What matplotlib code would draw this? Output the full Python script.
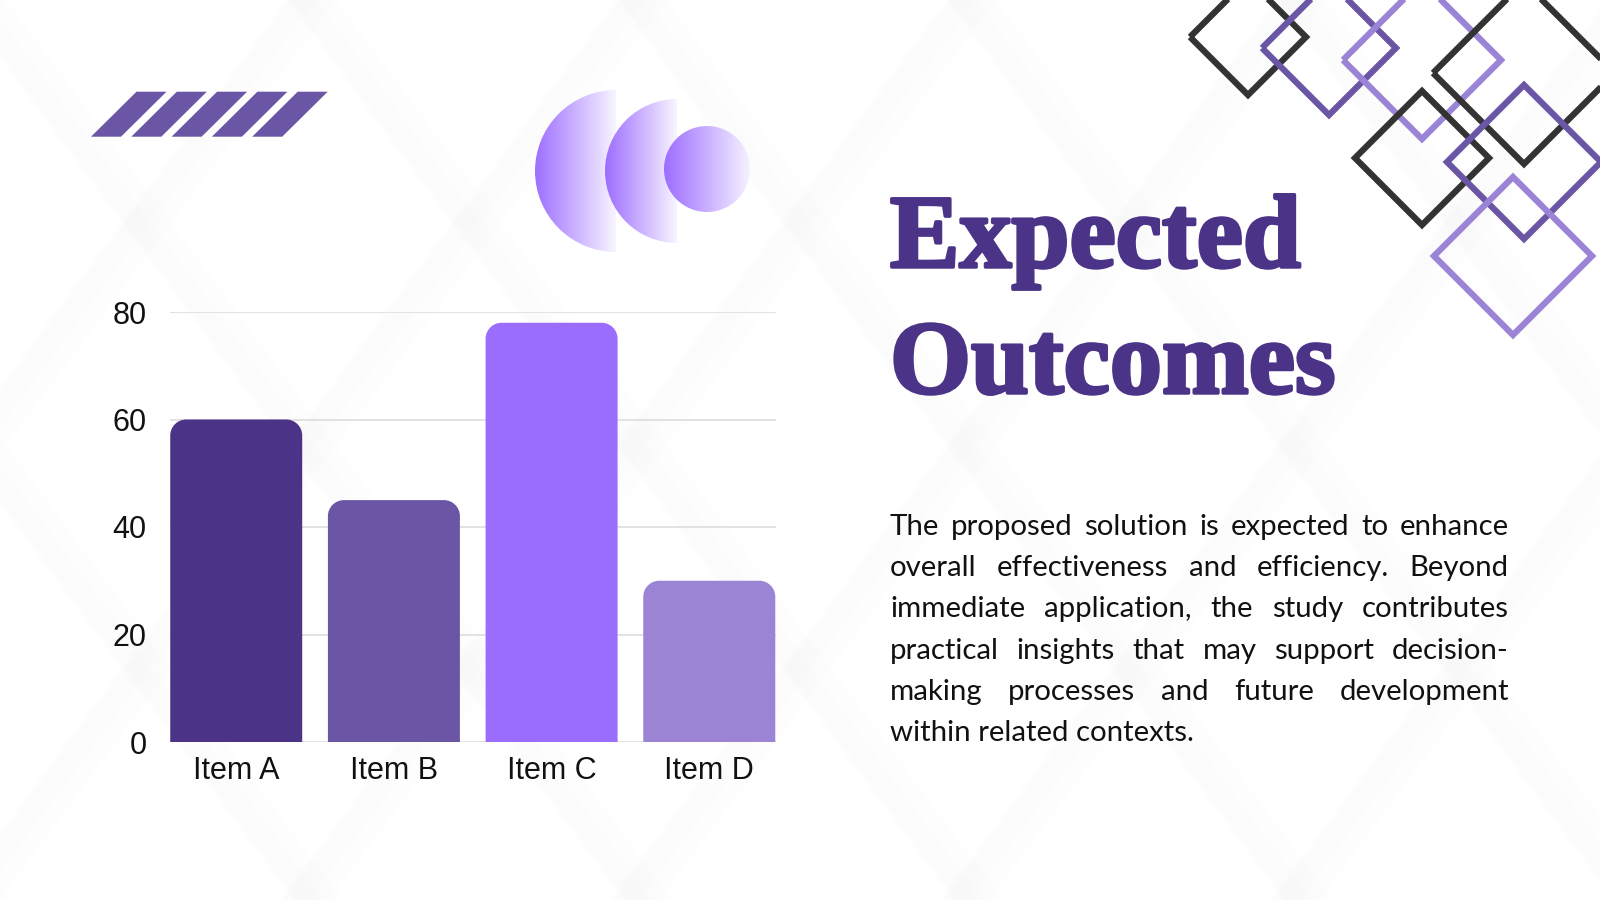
import numpy as np
import matplotlib
matplotlib.use("Agg")
import matplotlib.pyplot as plt
import matplotlib.patheffects as pe
from matplotlib.patches import Polygon, PathPatch, Wedge, Circle
from matplotlib.path import Path

# ---------- data ----------
items = ["Item A", "Item B", "Item C", "Item D"]
values = [60, 45, 78, 30]
bar_colors = ["#4B3388", "#6B55A5", "#9B6DFF", "#9A84D3"]
y_ticks = [0, 20, 40, 60, 80]

title_lines = ["Expected", "Outcomes"]
body_lines = [
    "The proposed solution is expected to enhance",
    "overall effectiveness and efficiency. Beyond",
    "immediate application, the study contributes",
    "practical insights that may support decision-",
    "making processes and future development",
    "within related contexts.",
]

W, H = 1600, 900
PURPLE_DARK = "#4B3388"
PURPLE_MID = "#6B55A5"
PURPLE_LIGHT = "#9B84D6"
DARK = "#333333"

fig = plt.figure(figsize=(16, 9), dpi=100)
fig.patch.set_facecolor("white")

# background / decoration axes in pixel units (y down)
bg = fig.add_axes([0, 0, 1, 1])
bg.set_xlim(0, W)
bg.set_ylim(H, 0)
bg.axis("off")

# soft one-sided shadows along a diagonal lattice
slope = 1.35
for c in np.arange(-700, 2400, 330):
    for s in (slope, -slope):
        xs = np.array([c - 900, c + 900])
        ys = s * (xs - c)
        for j in range(14):
            off = j * 4.0
            bg.plot(xs + off, ys, color="#777777", lw=4.0,
                    alpha=0.011 * (1 - j / 14), solid_capstyle="butt", zorder=0)

# slanted stripes
for i in range(5):
    x0 = 91 + 40.3 * i
    stripe = Polygon([(x0, 136.7), (x0 + 30, 136.7), (x0 + 75.5, 91.7), (x0 + 45.5, 91.7)],
                     closed=True, facecolor=PURPLE_MID, edgecolor="none", zorder=2)
    bg.add_patch(stripe)


# gradient half discs and circle
def gradient_shape(patch, x_left, x_right, c_from, c_to):
    bg.add_patch(patch)
    patch.set_facecolor("none")
    patch.set_edgecolor("none")
    c1 = np.array(matplotlib.colors.to_rgb(c_from))
    c2 = np.array(matplotlib.colors.to_rgb(c_to))
    t = np.linspace(0, 1, 256)[None, :, None]
    img = c1 + (c2 - c1) * t
    im = bg.imshow(img, extent=(x_left, x_right, H, 0), aspect="auto",
                   interpolation="bilinear", zorder=3)
    im.set_clip_path(patch)


gradient_shape(Wedge((616, 171), 81, 90, 270), 535, 616, "#9E6FFF", "#F8F5FF")
gradient_shape(Wedge((677, 171), 72, 90, 270), 605, 677, "#9D6DFF", "#F8F5FF")
gradient_shape(Circle((707, 169), 43), 664, 750, "#9D6DFF", "#F6F2FF")
bg.set_xlim(0, W)
bg.set_ylim(H, 0)

# outlined diamonds top right
diamonds = [
    ((1248, 37), 58, DARK),
    ((1329, 48), 67, PURPLE_MID),
    ((1422, 60), 79, PURPLE_LIGHT),
    ((1524, 73), 91, DARK),
    ((1422, 158), 67, DARK),
    ((1524, 162), 77, PURPLE_MID),
    ((1513, 256), 79, PURPLE_LIGHT),
]
for (cx, cy), r, col in diamonds:
    d = Polygon([(cx - r, cy), (cx, cy - r), (cx + r, cy), (cx, cy + r)], closed=True,
                facecolor="none", edgecolor=col, lw=4.5, joinstyle="miter", zorder=4)
    bg.add_patch(d)

# title
title_y = [267, 393]
for line, yb in zip(title_lines, title_y):
    bg.text(890, yb, line, fontsize=75, family="Liberation Serif", weight="bold",
            color=PURPLE_DARK, va="baseline", ha="left", zorder=5,
            path_effects=[pe.withStroke(linewidth=2.5, foreground=PURPLE_DARK)])

# body text, justified
renderer = fig.canvas.get_renderer()
BODY_SIZE = 21.2
left, right = 890, 1509
base0, step = 535, 41.2


def text_width(s):
    t = bg.text(0, 0, s, fontsize=BODY_SIZE, family="Lato")
    w = t.get_window_extent(renderer).width
    t.remove()
    return w


for k, line in enumerate(body_lines):
    yb = base0 + k * step
    if k == len(body_lines) - 1:
        bg.text(left, yb, line, fontsize=BODY_SIZE, family="Lato", color="#111111",
                va="baseline", ha="left", zorder=5)
        continue
    words = line.split()
    widths = [text_width(w) for w in words]
    gap = (right - left - sum(widths)) / (len(words) - 1)
    x = left
    for w, wd in zip(words, widths):
        bg.text(x, yb, w, fontsize=BODY_SIZE, family="Lato", color="#111111",
                va="baseline", ha="left", zorder=5)
        x += wd + gap

# ---------- bar chart ----------
ax_l, ax_r, ax_top, ax_bot = 170, 775.5, 312, 742
ax = fig.add_axes([ax_l / W, 1 - ax_bot / H, (ax_r - ax_l) / W, (ax_bot - ax_top) / H])
ax.patch.set_alpha(0)
ax.set_xlim(-0.42, 3.42)
ax.set_ylim(0, 80)
bars = ax.bar(range(len(items)), values, width=0.837, color=bar_colors, zorder=3)

# rounded top corners (radius ~16 px)
px_x = (ax_r - ax_l) / (3.42 + 0.42)
px_y = (ax_bot - ax_top) / 80
rx, ry = 16 / px_x, 16 / px_y
k = 0.5523
for b in bars:
    x, w, h = b.get_x(), b.get_width(), b.get_height()
    verts = [
        (x, 0), (x, h - ry),
        (x, h - ry + k * ry), (x + rx - k * rx, h), (x + rx, h),
        (x + w - rx, h),
        (x + w - rx + k * rx, h), (x + w, h - ry + k * ry), (x + w, h - ry),
        (x + w, 0), (x, 0),
    ]
    codes = [Path.MOVETO, Path.LINETO,
             Path.CURVE4, Path.CURVE4, Path.CURVE4,
             Path.LINETO,
             Path.CURVE4, Path.CURVE4, Path.CURVE4,
             Path.LINETO, Path.CLOSEPOLY]
    ax.add_patch(PathPatch(Path(verts, codes), facecolor=b.get_facecolor(),
                           edgecolor="none", zorder=3))
    b.set_visible(False)

ax.set_yticks(y_ticks)
ax.set_xticks(range(len(items)), items)
ax.yaxis.grid(True, color="#dddddd", lw=1.2, zorder=0)
ax.set_axisbelow(True)
for sp in ax.spines.values():
    sp.set_visible(False)
ax.tick_params(axis="y", length=0, labelsize=22, pad=17, labelcolor="#111111")
ax.tick_params(axis="x", length=0, labelsize=22, pad=10, labelcolor="#111111")
for lab in ax.get_xticklabels() + ax.get_yticklabels():
    lab.set_family("Liberation Sans")

fig.savefig("out.png", dpi=100)
